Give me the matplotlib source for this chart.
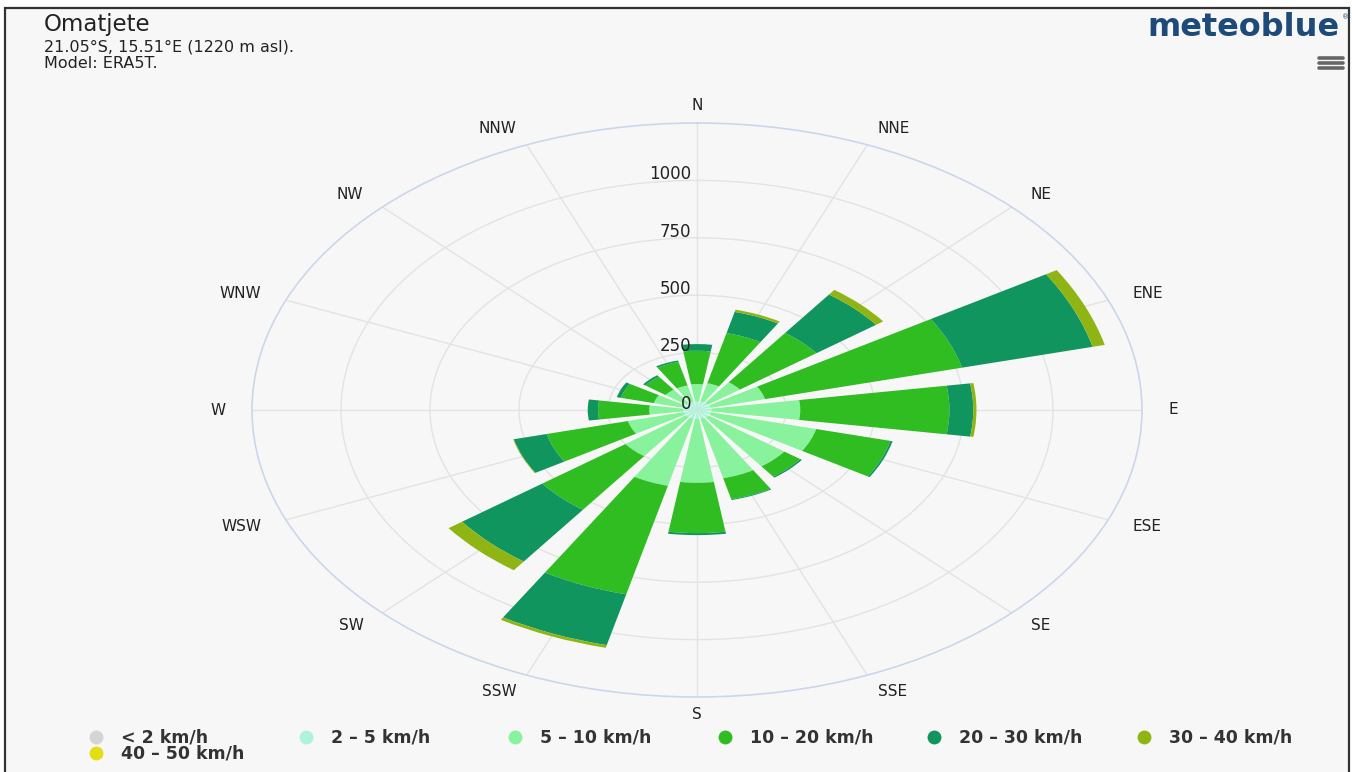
import numpy as np
import matplotlib
matplotlib.use("Agg")
import matplotlib.pyplot as plt

# wind rose data, Omatjete (ERA5T), counts per direction and speed bin
directions = ["N", "NNE", "NE", "ENE", "E", "ESE", "SE", "SSE",
              "S", "SSW", "SW", "WSW", "W", "WNW", "NW", "NNW"]
speed_labels = ["< 2 km/h", "2 – 5 km/h", "5 – 10 km/h", "10 – 20 km/h",
                "20 – 30 km/h", "30 – 40 km/h", "40 – 50 km/h"]

calm = [1, 1, 1, 1, 1, 1, 1, 1, 1, 1, 1, 1, 1, 1, 1, 1]
s2_5 = [38, 38, 38, 40, 40, 40, 40, 38, 38, 38, 38, 38, 38, 38, 38, 38]
s5_10 = [74, 81, 111, 156, 249, 304, 264, 267, 278, 301, 211, 161, 95, 86, 71, 71]
s10_20 = [145, 225, 267, 570, 419, 215, 55, 94, 219, 487, 290, 235, 144, 95, 70, 105]
s20_30 = [29, 95, 208, 378, 67, 6, 6, 4, 9, 228, 280, 95, 29, 12, 8, 7]
s30_40 = [0, 10, 25, 35, 9, 0, 0, 0, 0, 12, 47, 2, 0, 0, 0, 0]
s40_50 = [0, 0, 0, 0, 0, 0, 0, 0, 0, 0, 0, 0, 0, 0, 0, 0]

radial_ticks = [0, 250, 500, 750, 1000]

colors = ["#d4d4d4", "#aef3dc", "#88f29d", "#2fbd22", "#11955f", "#90b414", "#e2e014"]
series = [calm, s2_5, s5_10, s10_20, s20_30, s30_40, s40_50]

W, H = 1352, 772
fig = plt.figure(figsize=(W / 100, H / 100), dpi=100, facecolor="white")

# overlay in pixel coords for frame, header and legend
ov = fig.add_axes([0, 0, 1, 1], zorder=0)
ov.set_xlim(0, W)
ov.set_ylim(H, 0)
ov.axis("off")
ov.add_patch(plt.Rectangle((5, 8), 1344, 770, facecolor="#f7f7f7",
                           edgecolor="#333333", linewidth=1.6))

ov.text(44, 25, "Omatjete", fontsize=16.5, color="#222222", va="center", ha="left")
ov.text(44, 47, "21.05°S, 15.51°E (1220 m asl).", fontsize=11.5, color="#222222",
        va="center", ha="left")
ov.text(44, 64, "Model: ERA5T.", fontsize=11.5, color="#222222", va="center", ha="left")

ov.text(1340, 27, "meteoblue", fontsize=23, fontweight="bold", color="#1d4a78",
        va="center", ha="right")
ov.text(1342, 17, "®", fontsize=5, color="#1d4a78", va="center", ha="left")
for yy in [58, 63, 68]:
    ov.plot([1319, 1343], [yy, yy], color="#666666", lw=2.6, solid_capstyle="round")

# legend, fixed item width like the original
for i, lab in enumerate(speed_labels):
    row, col = divmod(i, 6)
    x = 96 + col * 209.6
    y = 737 + row * 16
    ov.plot(x, y, "o", ms=10, color=colors[i], mec="none")
    ov.text(x + 25, y, lab, fontsize=12.5, fontweight="bold", color="#333333",
            va="center", ha="left")

# polar wind rose
ax = fig.add_axes([252 / W, 1 - 697 / H, 890 / W, 574 / H], projection="polar", zorder=1)
ax.set_aspect("auto")
ax.set_facecolor("none")
ax.set_theta_zero_location("N")
ax.set_theta_direction(-1)

theta = np.deg2rad(np.arange(len(directions)) * 22.5)
bottom = np.zeros(len(directions))
for vals, c, lab in zip(series, colors, speed_labels):
    vals = np.array(vals, dtype=float)
    ax.bar(theta, vals, width=0.30, bottom=bottom, color=c, edgecolor="none",
           label=lab, zorder=3)
    bottom += vals

ax.set_ylim(0, 1250)
ax.set_xticks(theta)
ax.set_xticklabels([])
ax.set_yticks([250, 500, 750, 1000])
ax.set_yticklabels([])
ax.tick_params(length=0)
ax.grid(color="#e3e3e3", linewidth=1)
ax.spines["polar"].set_color("#ccd6eb")
ax.spines["polar"].set_linewidth(1.2)

for t, d in zip(theta, directions):
    s = np.sin(t)
    ha = "left" if s > 0.1 else ("right" if s < -0.1 else "center")
    ax.text(t, 1325, d, ha=ha, va="center", fontsize=11, color="#222222")

for v in radial_ticks:
    ax.annotate(str(v), xy=(0, v), xytext=(-4, 4.5), textcoords="offset points",
                ha="right", va="center", fontsize=12, color="#222222", zorder=5)

fig.savefig("out.png", dpi=100, facecolor="white")
